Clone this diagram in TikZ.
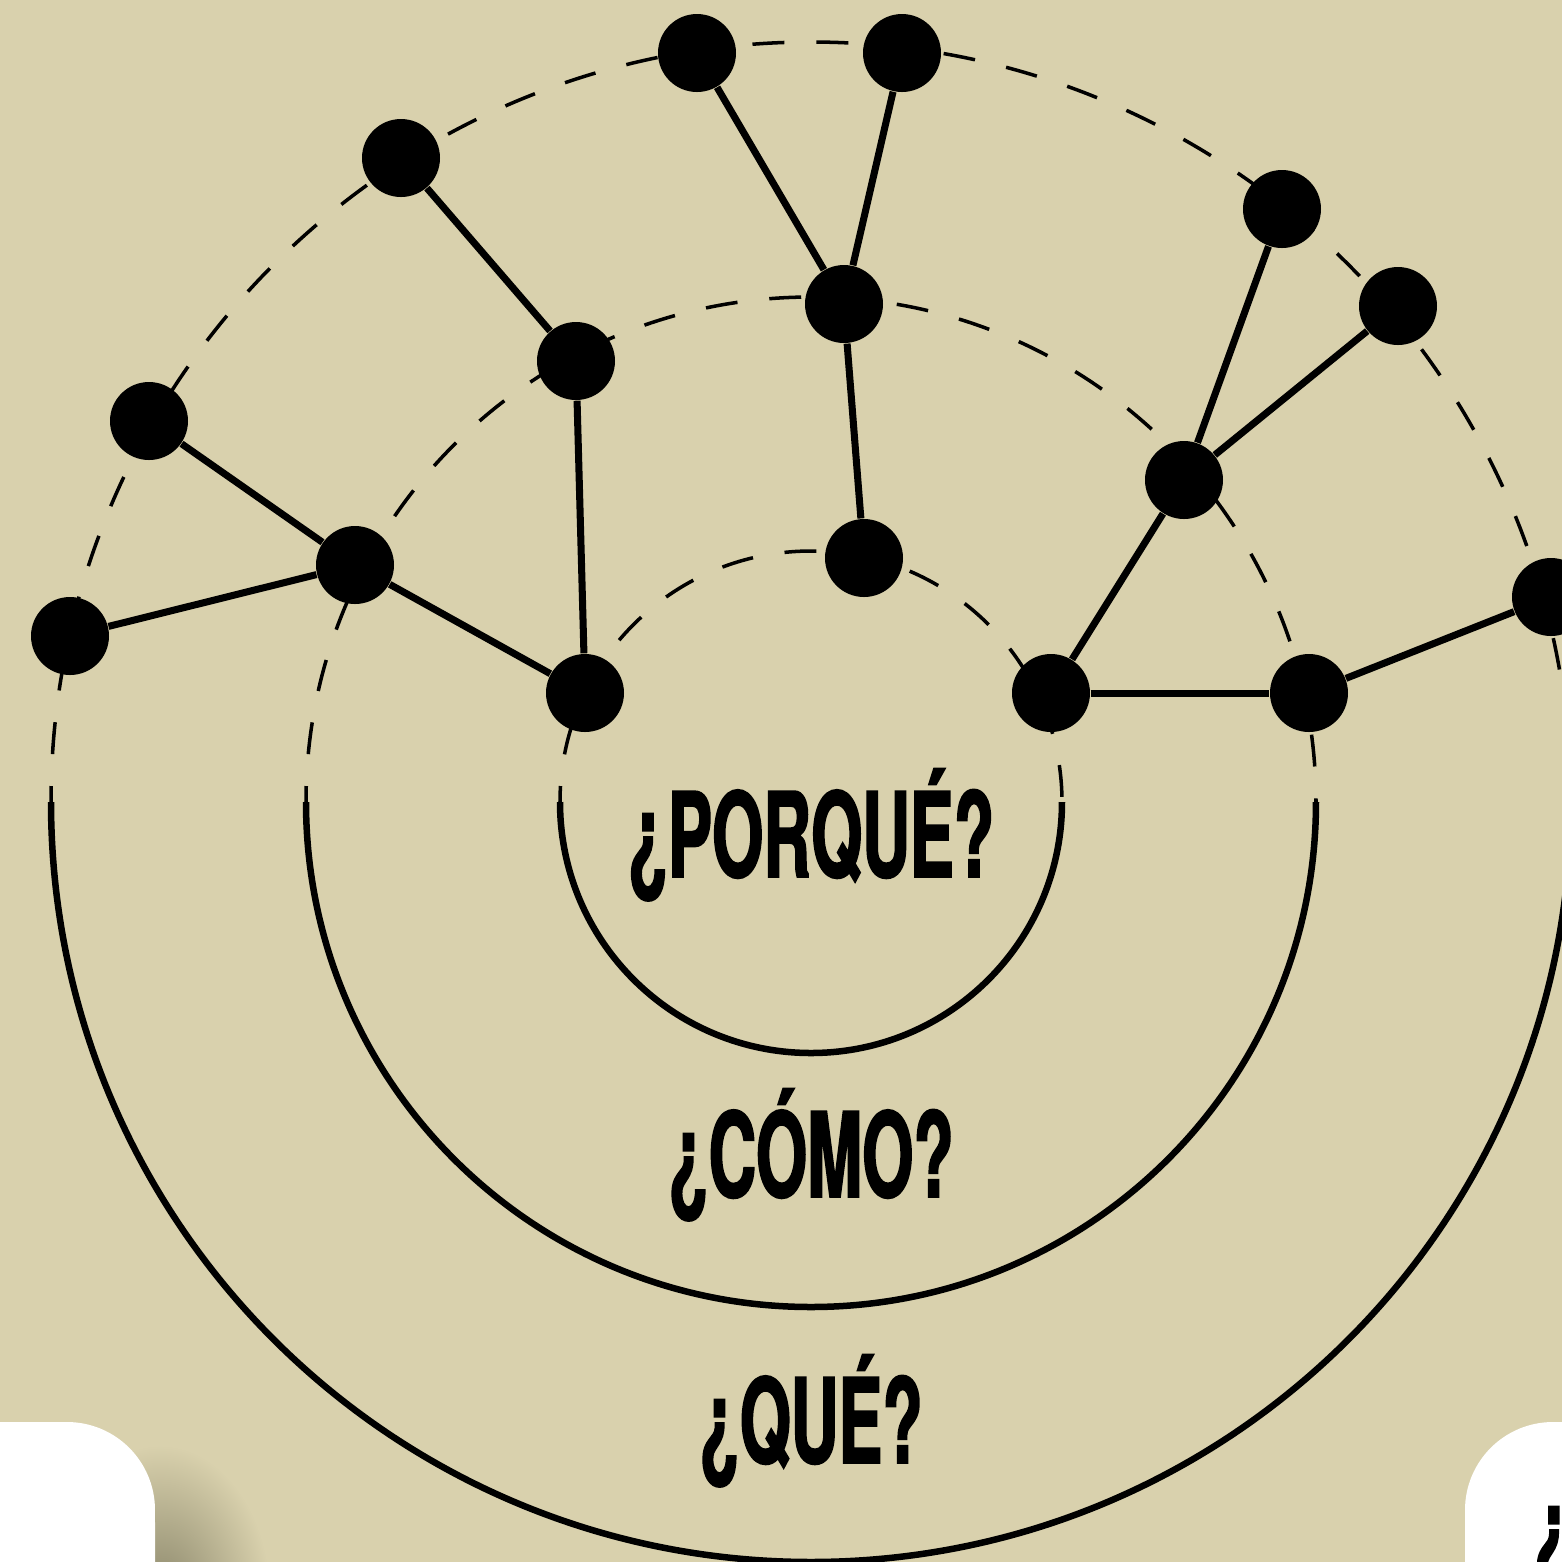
\documentclass[tikz,border=0pt]{standalone}
\usepackage{fontspec}
\newfontfamily\qfont[FakeStretch=0.56,FakeBold=1.5]{TeX Gyre Heros}
\definecolor{bg}{RGB}{217,209,173}
\definecolor{shadow}{RGB}{140,136,108}
\begin{document}
\begin{tikzpicture}[x=0.1mm,y=-0.1mm,
  dot/.style={circle,fill=black,inner sep=0pt,minimum size=7.8mm},
  link/.style={line width=2pt},
  ringdash/.style={line width=1pt,dash pattern=on 9.1pt off 9.1pt,dash phase=4.55pt},
  ringsolid/.style={line width=1.85pt},
  label/.style={font=\qfont\bfseries\fontsize{33.5}{36}\selectfont,inner sep=0pt,anchor=base}]
\useasboundingbox (0,0) rectangle (1562,1562);
\fill[bg] (0,0) rectangle (1562,1562);
\clip (0,0) rectangle (1562,1562);
% shadow
\shade[inner color=shadow,outer color=bg] (160,1595) ellipse [x radius=11mm,y radius=15mm];
% rings
\coordinate (c) at (811,802);
\foreach \r in {25.1,50.5,76.0}{
  \draw[ringdash] (c) ++(180:\r mm) arc[start angle=180,end angle=0,radius=\r mm];
  \draw[ringsolid] (c) ++(180:\r mm) arc[start angle=180,end angle=360,radius=\r mm];
}
% nodes
\node[dot] (n1) at (697,53) {};
\node[dot] (n2) at (902,53) {};
\node[dot] (n3) at (401,158) {};
\node[dot] (n4) at (1282,209) {};
\node[dot] (n5) at (1398,306) {};
\node[dot] (n6) at (844,304) {};
\node[dot] (n7) at (576,361) {};
\node[dot] (n8) at (149,421) {};
\node[dot] (n9) at (1184,480) {};
\node[dot] (n10) at (864,558) {};
\node[dot] (n11) at (355,565) {};
\node[dot] (n12) at (70,636) {};
\node[dot] (n13) at (1551,597) {};
\node[dot] (n14) at (585,693) {};
\node[dot] (n15) at (1051,693) {};
\node[dot] (n16) at (1309,693) {};
% edges
\draw[link] (n1) -- (n6);
\draw[link] (n2) -- (n6);
\draw[link] (n6) -- (n10);
\draw[link] (n3) -- (n7);
\draw[link] (n7) -- (n14);
\draw[link] (n8) -- (n11);
\draw[link] (n11) -- (n12);
\draw[link] (n11) -- (n14);
\draw[link] (n4) -- (n9);
\draw[link] (n5) -- (n9);
\draw[link] (n9) -- (n15);
\draw[link] (n15) -- (n16);
\draw[link] (n16) -- (n13);
% texts
\node[label] (t1) at (811,877) {¿PORQUÉ?};
\node[label] (t2) at (811,1197) {¿CÓMO?};
\node[label] (t3) at (811,1463) {¿QUÉ?};
% white corners
\fill[white] (0,1562) -- (0,1422) -- (67,1422) arc[start angle=90,end angle=0,radius=8.8mm] -- (155,1562) -- cycle;
\fill[white] (1562,1562) -- (1562,1422) -- (1553,1422) arc[start angle=90,end angle=180,radius=8.8mm] -- (1465,1562) -- cycle;
\node[label,anchor=base west] (t4) at (1533,1570) {¿};
\end{tikzpicture}
\end{document}
